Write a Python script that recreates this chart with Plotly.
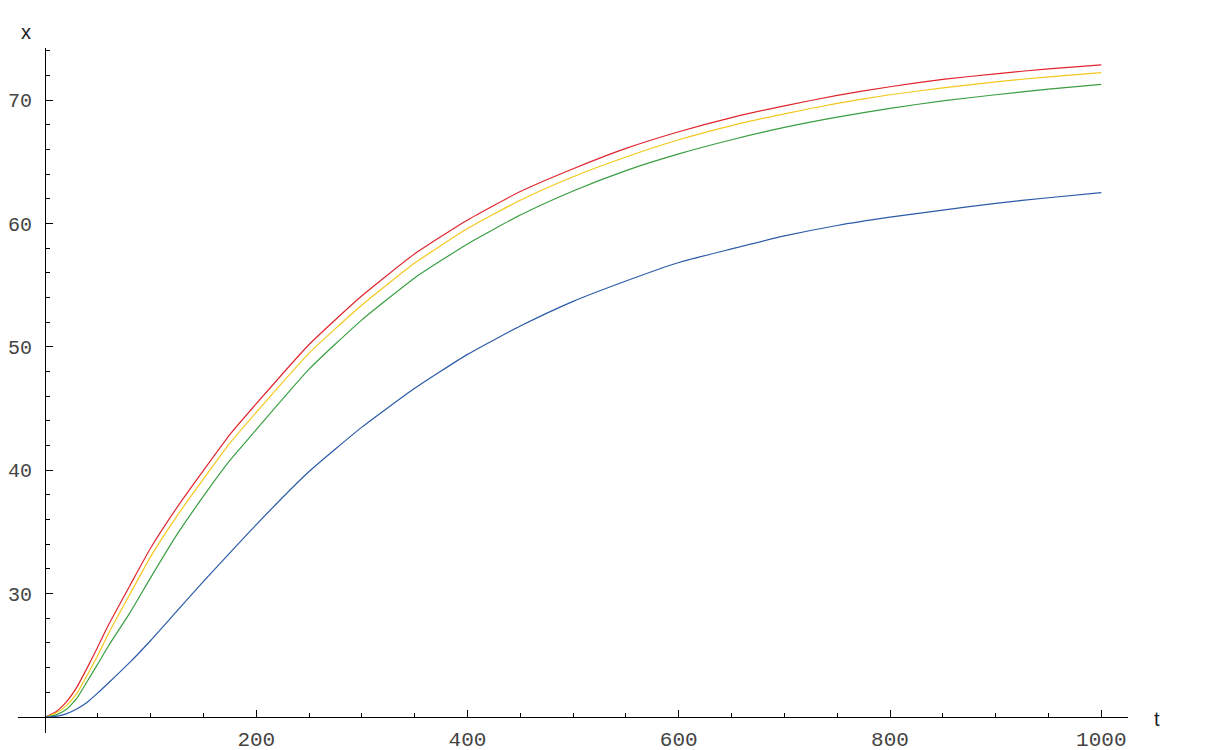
import plotly.graph_objects as go

# time grid
t = [0, 10, 20, 30, 40, 50, 60, 80, 100, 125, 150, 175, 200, 250, 300, 350, 400,
     450, 500, 550, 600, 650, 700, 750, 800, 850, 900, 950, 1000]

red = [20.0, 20.4, 21.2, 22.4, 24.0, 25.7, 27.45, 30.6, 33.7, 37.0, 40.0, 42.9, 45.4,
       50.2, 54.15, 57.55, 60.3, 62.6, 64.45, 66.1, 67.45, 68.6, 69.55, 70.4, 71.1,
       71.7, 72.15, 72.55, 72.87]
yellow = [20.0, 20.3, 20.9, 21.9, 23.4, 25.0, 26.75, 29.9, 33.0, 36.3, 39.3, 42.2, 44.7,
          49.5, 53.4, 56.8, 59.6, 61.9, 63.8, 65.4, 66.8, 67.95, 68.9, 69.75, 70.45,
          71.0, 71.5, 71.9, 72.25]
green = [20.0, 20.15, 20.6, 21.5, 22.9, 24.3, 25.75, 28.4, 31.3, 34.8, 37.9, 40.8, 43.3,
         48.2, 52.2, 55.6, 58.35, 60.7, 62.65, 64.3, 65.65, 66.8, 67.8, 68.63, 69.35,
         69.95, 70.45, 70.9, 71.29]
blue = [20.0, 20.05, 20.25, 20.65, 21.2, 21.95, 22.75, 24.4, 26.2, 28.6, 31.0, 33.3, 35.6,
        39.9, 43.5, 46.65, 49.4, 51.7, 53.7, 55.35, 56.85, 57.95, 59.0, 59.85, 60.52,
        61.1, 61.65, 62.1, 62.51]

series = [("red", red, "#e1242d"), ("yellow", yellow, "#f3c81e"),
          ("green", green, "#3a9e42"), ("blue", blue, "#2b5ba8")]

x_major = [200, 400, 600, 800, 1000]
x_minor = [v for v in range(50, 1001, 50) if v not in x_major]
y_major = [30, 40, 50, 60, 70]
y_minor = [v for v in range(22, 75, 2) if v not in y_major]

x_range = [-25.6, 1025.3]
y_range = [18.70, 74.24]

fig = go.Figure()
for name, vals, col in series:
    fig.add_trace(go.Scatter(x=t, y=vals, mode="lines", name=name,
                             line=dict(color=col, width=1.2, shape="spline", smoothing=0.5),
                             hoverinfo="skip"))

x_pos = (20 - y_range[0]) / (y_range[1] - y_range[0])
y_pos = (0 - x_range[0]) / (x_range[1] - x_range[0])

tickfont_x = dict(family="Liberation Mono, Courier New, monospace", size=21, color="#444444")
tickfont_y = dict(family="Liberation Mono, Courier New, monospace", size=20, color="#444444")

fig.update_layout(
    width=1216, height=742,
    margin=dict(l=10, r=96, t=40, b=17, autoexpand=False),
    paper_bgcolor="white", plot_bgcolor="white",
    showlegend=False,
    xaxis=dict(range=x_range, anchor="free", position=x_pos, showgrid=False, zeroline=False,
               automargin=False, ticklabeloverflow="allow",
               showline=True, linecolor="black", linewidth=1,
               tickmode="array", tickvals=x_major, ticktext=[str(v) for v in x_major],
               ticks="inside", ticklen=7, tickwidth=1, tickcolor="black",
               ticklabelstandoff=3, tickfont=tickfont_x,
               minor=dict(tickvals=x_minor, ticks="inside", ticklen=4, tickwidth=1,
                          tickcolor="black", showgrid=False)),
    yaxis=dict(range=y_range, anchor="free", position=y_pos, showgrid=False, zeroline=False,
               automargin=False, ticklabeloverflow="allow",
               showline=True, linecolor="black", linewidth=1,
               tickmode="array", tickvals=y_major, ticktext=[str(v) for v in y_major],
               ticks="inside", ticklen=7, tickwidth=1, tickcolor="black",
               ticklabelstandoff=9, tickfont=tickfont_y,
               minor=dict(tickvals=y_minor, ticks="inside", ticklen=4, tickwidth=1,
                          tickcolor="black", showgrid=False)),
    annotations=[
        dict(text="x", xref="paper", yref="paper", x=(26 - 18) / 1110, y=(733 - 32) / 685,
             showarrow=False, xanchor="center", yanchor="middle",
             font=dict(family="Liberation Sans, Arial, sans-serif", size=20, color="#222")),
        dict(text="t", xref="paper", yref="paper", x=(1157 - 18) / 1110, y=(733 - 719) / 685,
             showarrow=False, xanchor="center", yanchor="middle",
             font=dict(family="Liberation Sans, Arial, sans-serif", size=20, color="#222")),
    ],
)

fig.write_html("out.html")
